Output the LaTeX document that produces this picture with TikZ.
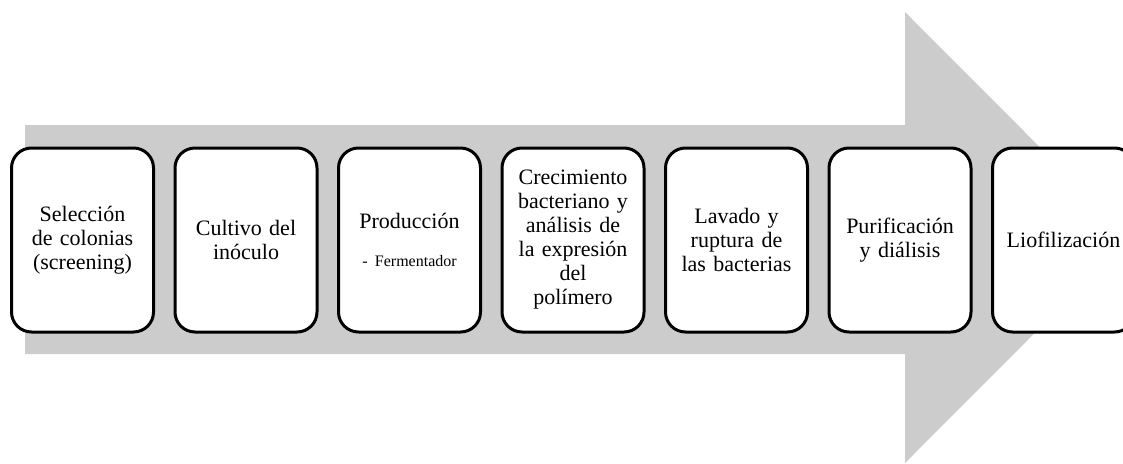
\documentclass[tikz,border=0pt]{standalone}
\usepackage{fontspec}
\setmainfont{Liberation Serif}
\usetikzlibrary{positioning}
\definecolor{arrowgray}{RGB}{204,204,204}

\begin{document}
\begin{tikzpicture}[x=1pt,y=-1pt]
		  \tikzset{
			stepbox/.style={draw=black,fill=white,line width=3pt,rounded corners=20pt,
			  minimum width=142pt,minimum height=184pt,text width=132pt,align=center,
			  font=\fontsize{22}{24}\selectfont},
			small/.style={font=\fontsize{16}{18}\selectfont},
		  }
		  %FRAME
		  \useasboundingbox (0,0) rectangle (1123,463);
		  \clip (0,0) rectangle (1123,463);
		  %ARROW
		  \fill[arrowgray] (25,125) -- (905,125) -- (905,12) -- (1130,237.5)
			-- (905,463) -- (905,354) -- (25,354) -- cycle;
		  %BOXES
		  \foreach \txt [count=\i] in {{Selección\\de colonias\\(screening)},
			{Cultivo del\\inóculo},
			{Producción\\[14pt]{\fontsize{16}{18}\selectfont - Fermentador}\\[6pt]},
			{Crecimiento\\bacteriano y\\análisis de\\la expresión\\del\\polímero},
			{Lavado y\\ruptura de\\las bacterias},
			{Purificación\\y diálisis},
			{Liofilización}}{
		  \node[stepbox] (P\i) at ({82.5+163.5*(\i-1)},240) {\txt};
		  }
\end{tikzpicture}
\end{document}
